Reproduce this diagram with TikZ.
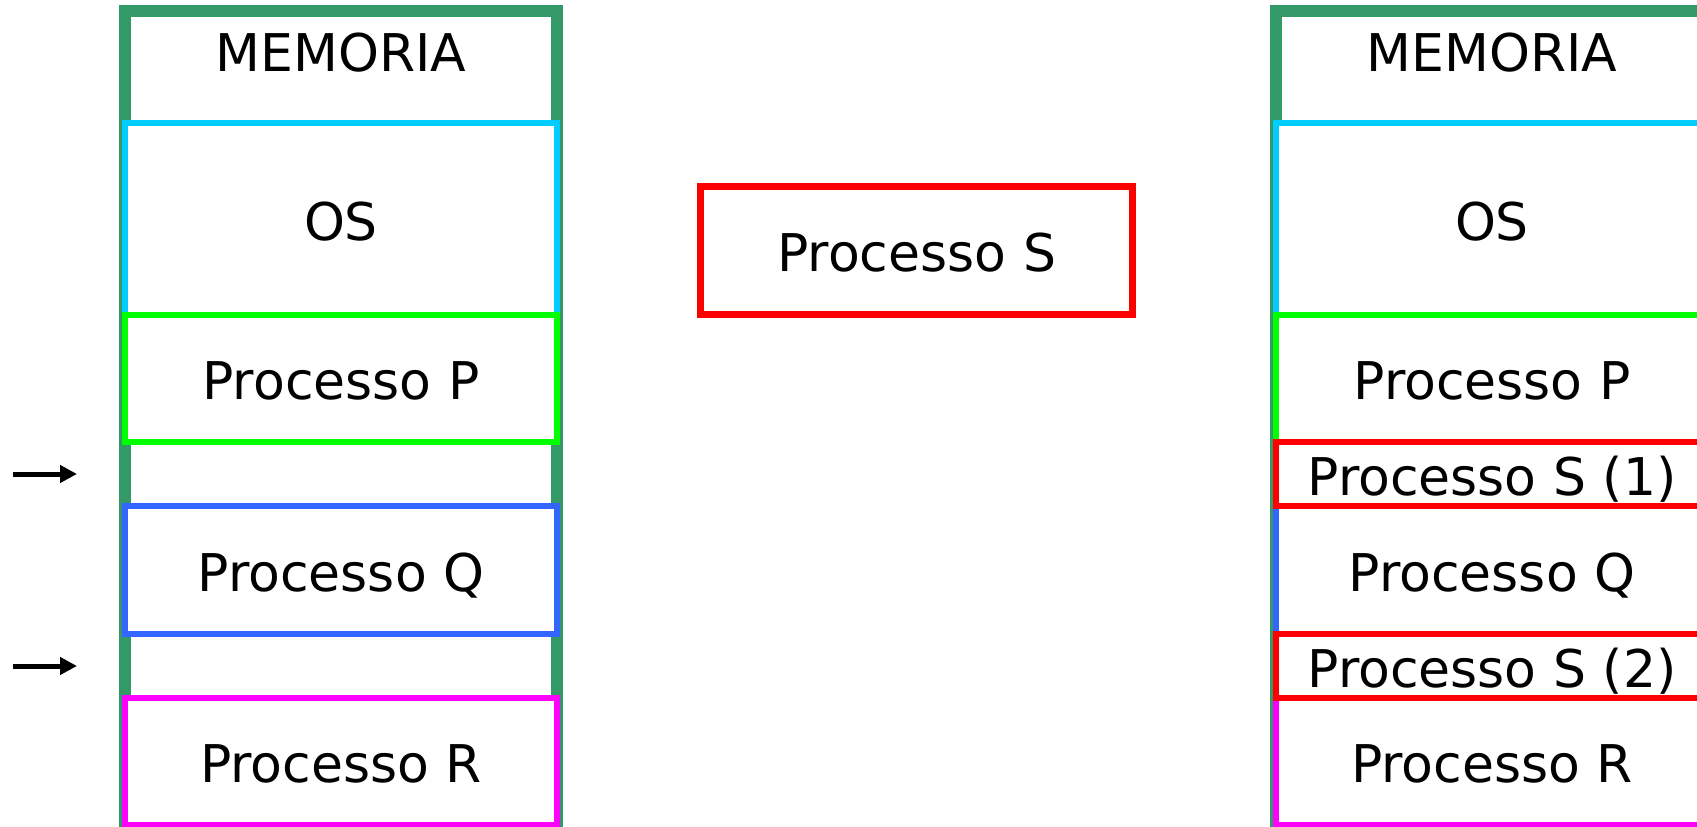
\documentclass[tikz,border=0pt]{standalone}
\usepackage{fontspec}
\setmainfont{DejaVu Sans}
\usetikzlibrary{arrows.meta}
\definecolor{framegreen}{RGB}{51,153,102}
\definecolor{oscyan}{RGB}{0,204,255}
\definecolor{pgreen}{RGB}{0,255,0}
\definecolor{qblue}{RGB}{51,102,255}
\definecolor{rmagenta}{RGB}{255,0,255}
\definecolor{sred}{RGB}{255,0,0}

\begin{document}
\begin{tikzpicture}[x=1pt,y=-1pt,>={Triangle[length=17pt,width=17pt]}]
        \tikzset{every node/.style={font=\fontsize{52}{62}\selectfont}}
        \tikzset{memframe/.style={draw=framegreen,line width=12pt},
                 membox/.style={draw=#1,fill=white,line width=6.5pt,minimum width=432pt,
                                inner sep=0pt,text height=42.9pt,text depth=0pt}}
        \useasboundingbox (0,0) rectangle (1697,827);
        % two memory columns: before and after loading S
        \foreach \cx/\s in {341/l,1492/r}{
            \draw[memframe] (\cx-216,10.5) rectangle (\cx+216,850);
            \node[anchor=base] (mem\s) at (\cx,71.7) {MEMORIA};
            \node[membox=oscyan,minimum height=192pt] (os\s) at (\cx,219) {OS};
            \node[membox=pgreen,minimum height=127pt] (p\s) at (\cx,378.5) {Processo P};
            \node[membox=qblue,minimum height=128pt] (q\s) at (\cx,570) {Processo Q};
            \node[membox=rmagenta,minimum height=127pt] (r\s) at (\cx,761.5) {Processo R};
        }
        % S split into the two holes
        \node[membox=sred,minimum height=64pt] (sone) at (1492,474) {Processo S (1)};
        \node[membox=sred,minimum height=64pt] (stwo) at (1492,666) {Processo S (2)};
        \node[membox=sred,minimum height=128pt] (procs) at (916.7,250.5) {Processo S};
        % free holes
        \foreach \y/\n in {474/1,666/2}{
            \coordinate (tail\n) at (13,\y);
            \coordinate (tip\n) at (77,\y);
            \draw[->,line width=5pt] (tail\n) -- (tip\n);
        }
\end{tikzpicture}
\end{document}
